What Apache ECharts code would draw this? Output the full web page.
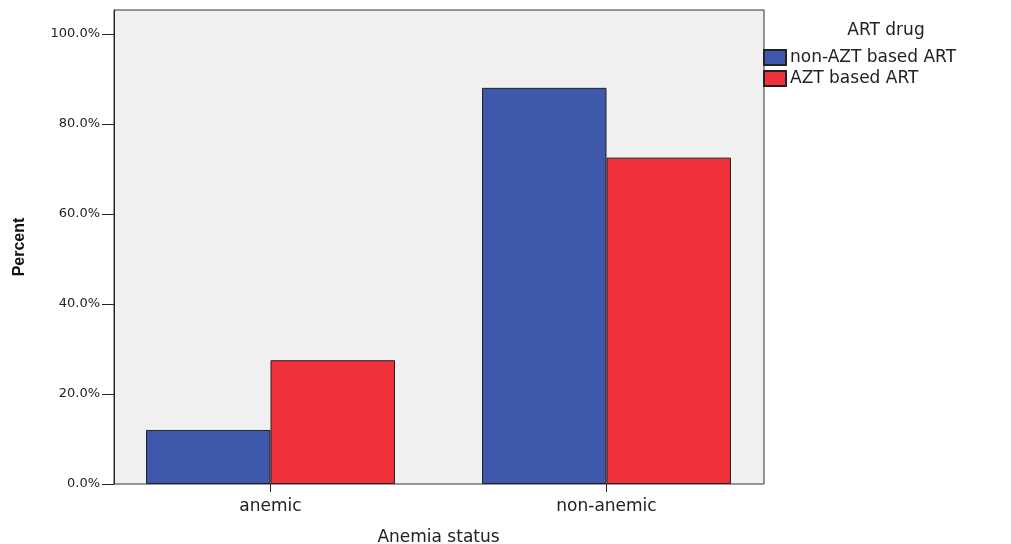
<!DOCTYPE html>
<html>
<head>
<meta charset="utf-8">
<script src="https://cdn.jsdelivr.net/npm/echarts@6/dist/echarts.min.js"></script>
<style>
html,body{margin:0;padding:0;background:#fff;}
#chart{width:1011px;height:544px;}
</style>
</head>
<body>
<div id="chart"></div>
<script>
var categories = ['anemic', 'non-anemic'];
var seriesNames = ['non-AZT based ART', 'AZT based ART'];
var nonAZT = [12.0, 88.0];
var AZT = [27.5, 72.5];
var yTicks = [0, 20, 40, 60, 80, 100];
var yMax = 105.3;

var chart = echarts.init(document.getElementById('chart'), null, {renderer: 'canvas'});
var font = 'DejaVu Sans, Liberation Sans, Arial, sans-serif';
var option = {
  animation: false,
  backgroundColor: '#ffffff',
  title: {
    text: 'ART drug',
    left: 886, top: 22, textAlign: 'center', padding: 0,
    textStyle: {fontFamily: font, fontSize: 17, fontWeight: 'normal', color: '#222'}
  },
  legend: {
    orient: 'vertical',
    left: 763, top: 49, padding: 0,
    itemWidth: 22, itemHeight: 15, itemGap: 4,
    icon: 'rect',
    textStyle: {fontFamily: font, fontSize: 17, color: '#222', lineHeight: 15, padding: [0,0,0,-1]},
    data: seriesNames
  },
  grid: [
    {left: 114, right: 247, top: 10, bottom: 60, show: true, backgroundColor: '#f0f0f0', borderColor: '#333', borderWidth: 1, outerBoundsMode: 'none', containLabel: false},
    {left: 102.5, right: 236.5, top: 10, bottom: 60, outerBoundsMode: 'none', containLabel: false}
  ],
  xAxis: [
    {gridIndex: 0, type: 'category', data: categories, show: false},
    {gridIndex: 1, type: 'category', data: categories,
      axisLine: {show: false},
      axisTick: {show: true, alignWithLabel: true, length: 8, lineStyle: {color: '#222'}},
      axisLabel: {fontFamily: font, fontSize: 17, color: '#222', margin: 14},
      name: 'Anemia status', nameLocation: 'middle', nameGap: 45,
      nameTextStyle: {fontFamily: font, fontSize: 17, color: '#222'}
    }
  ],
  yAxis: [
    {gridIndex: 0, type: 'value', min: 0, max: yMax, interval: 20,
      axisLine: {show: true, lineStyle: {color: '#222'}},
      axisTick: {show: true, length: 12, lineStyle: {color: '#222'}, customValues: yTicks},
      axisLabel: {fontFamily: font, fontSize: 13, color: '#222', margin: 14, customValues: yTicks,
        formatter: function (v) { return v.toFixed(1) + '%'; }},
      splitLine: {show: false},
      name: 'Percent', nameLocation: 'middle', nameGap: 86, nameRotate: 90,
      nameTextStyle: {fontFamily: 'Liberation Sans, Arial, sans-serif', fontSize: 16, fontWeight: 'bold', color: '#111'}
    },
    {gridIndex: 1, type: 'value', min: 0, max: yMax, show: false, splitLine: {show: false}}
  ],
  series: [
    {name: seriesNames[0], type: 'bar', xAxisIndex: 1, yAxisIndex: 1, data: nonAZT,
      barGap: '0%', barCategoryGap: '25.9%',
      itemStyle: {color: '#3e58ab', borderColor: '#222', borderWidth: 1}},
    {name: seriesNames[1], type: 'bar', xAxisIndex: 1, yAxisIndex: 1, data: AZT,
      barGap: '0%', barCategoryGap: '25.9%',
      itemStyle: {color: '#f0313a', borderColor: '#222', borderWidth: 1}}
  ]
};
chart.setOption(option);
</script>
</body>
</html>
